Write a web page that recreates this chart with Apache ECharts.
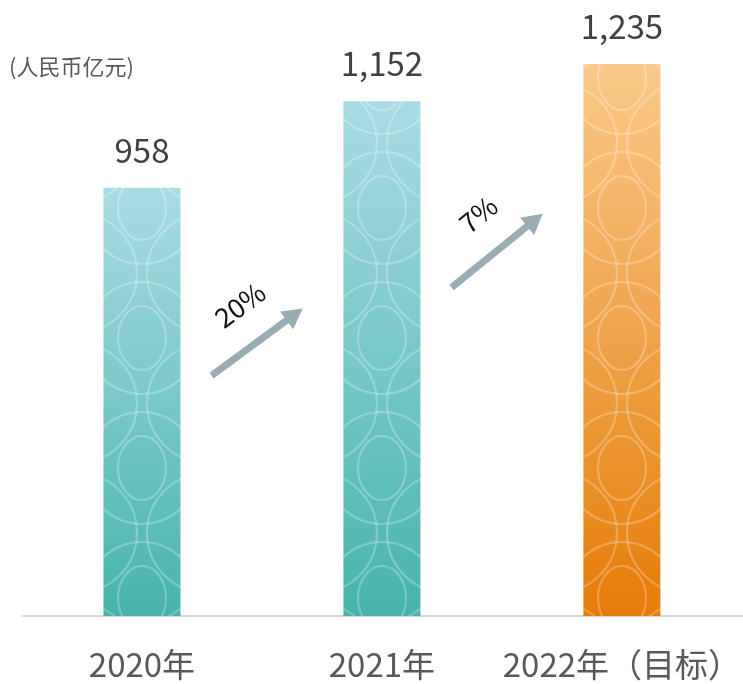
<!DOCTYPE html>
<html><head><meta charset="utf-8">
<script src="https://cdn.jsdelivr.net/npm/echarts@6/dist/echarts.min.js"></script>
<style>html,body{margin:0;padding:0;background:#fff}#c{width:743px;height:684px}</style>
</head><body><div id="c"></div>
<script>
// ---- data ----
const categories = ['2020年', '2021年', '2022年（目标）'];
const revenue = [958, 1152, 1235];
const growthLabels = ['20%', '7%'];
const unitLabel = '(人民币亿元)';

// ---- style / layout ----
const FONT = '"Noto Sans CJK SC", "Noto Sans", sans-serif';
const tealGrad = new echarts.graphic.LinearGradient(0, 0, 0, 1, [
  { offset: 0, color: '#a9dce2' }, { offset: 1, color: '#46b4aa' }]);
const orangeGrad = new echarts.graphic.LinearGradient(0, 0, 0, 1, [
  { offset: 0, color: '#f9c98a' }, { offset: 1, color: '#e57c08' }]);
const barColors = [tealGrad, tealGrad, orangeGrad];
// arrows between bars: fraction of category step from bar centre, value-space y
const arrowLayout = [
  { f0: 0.29, v0: 538, f1: 0.67, v1: 688 },
  { f0: 0.29, v0: 735, f1: 0.67, v1: 900 }
];

const chart = echarts.init(document.getElementById('c'));
const BAR_W = 77;

const baseOption = {
  animation: false,
  grid: { left: 22, right: -5, top: 35, bottom: 68 },
  xAxis: {
    type: 'category', data: categories,
    axisLine: { lineStyle: { color: '#d9d9d9', width: 2 } },
    axisTick: { show: false },
    axisLabel: { interval: 0, fontSize: 33, color: '#595959', margin: 32, fontFamily: FONT }
  },
  yAxis: { type: 'value', min: 0, max: 1300, show: false, splitLine: { show: false } },
  series: [{
    type: 'bar', barWidth: BAR_W,
    data: revenue.map((v, i) => ({ value: v, itemStyle: { color: barColors[i] } })),
    label: {
      show: true, position: 'top', distance: 21, fontSize: 33, color: '#404040', fontFamily: FONT,
      formatter: p => p.value.toLocaleString('en-US')
    }
  }],
  graphic: [{
    type: 'text', left: 9, top: 56,
    style: { text: unitLabel, fontSize: 22, fill: '#595959', fontFamily: FONT }
  }]
};
chart.setOption(baseOption);

// pattern overlay + arrows computed from the axes
const c0 = chart.convertToPixel({ xAxisIndex: 0 }, categories[0]);
const c1 = chart.convertToPixel({ xAxisIndex: 0 }, categories[1]);
const step = c1 - c0;
const cvs = document.createElement('canvas');
const TW = Math.round(step), TH = 130;
cvs.width = TW; cvs.height = TH;
const ctx = cvs.getContext('2d');
ctx.strokeStyle = 'rgba(255,255,255,0.26)';
ctx.lineWidth = 2.2;
const cx = ((c0 % TW) + TW) % TW;
const R = 60, SIDE = 65, CROSS = 13, OVAL = 78;
for (const dy of [-TH, 0, TH, 2 * TH]) {
  ctx.beginPath(); ctx.arc(cx, OVAL + dy, R - 4, 0, Math.PI * 2); ctx.stroke();
  ctx.beginPath(); ctx.ellipse(cx, OVAL + dy, 24, 32, 0, 0, Math.PI * 2); ctx.stroke();
  ctx.beginPath(); ctx.arc(cx - SIDE, CROSS + dy, R, 0, Math.PI * 2); ctx.stroke();
  ctx.beginPath(); ctx.arc(cx + SIDE, CROSS + dy, R, 0, Math.PI * 2); ctx.stroke();
}

const graphics = baseOption.graphic.slice();
arrowLayout.forEach((a, i) => {
  const ci = chart.convertToPixel({ xAxisIndex: 0 }, categories[i]);
  const x0 = ci + a.f0 * step, y0 = chart.convertToPixel({ yAxisIndex: 0 }, a.v0);
  const x1 = ci + a.f1 * step, y1 = chart.convertToPixel({ yAxisIndex: 0 }, a.v1);
  const dx = x1 - x0, dy = y1 - y0, L = Math.hypot(dx, dy);
  const ux = dx / L, uy = dy / L, nx = -uy, ny = ux;
  const HL = 20, HW = 11;
  const bx = x1 - ux * HL, by = y1 - uy * HL;
  graphics.push({
    type: 'line', silent: true,
    shape: { x1: x0, y1: y0, x2: bx + ux * 2, y2: by + uy * 2 },
    style: { stroke: '#9aabb3', lineWidth: 7 }
  });
  graphics.push({
    type: 'polygon', silent: true,
    shape: { points: [[x1, y1], [bx + nx * HW, by + ny * HW], [bx - nx * HW, by - ny * HW]] },
    style: { fill: '#9aabb3' }
  });
  const mx = (x0 + x1) / 2, my = (y0 + y1) / 2;
  const px = -uy, py = ux;
  const sgn = py < 0 ? 1 : -1;
  graphics.push({
    type: 'text', silent: true,
    x: mx + sgn * px * 40 + ux * 8, y: my + sgn * py * 40 + uy * 8,
    rotation: Math.atan2(-dy, dx),
    style: { text: growthLabels[i], fontSize: 27, fill: '#111111', fontFamily: FONT,
             align: 'center', verticalAlign: 'middle' }
  });
});

chart.setOption({
  series: [baseOption.series[0], {
    type: 'bar', barWidth: BAR_W, barGap: '-100%', silent: true,
    data: revenue.slice(),
    itemStyle: { color: { image: cvs, repeat: 'repeat' } },
    label: { show: false }
  }],
  graphic: graphics
});
</script>
</body></html>
